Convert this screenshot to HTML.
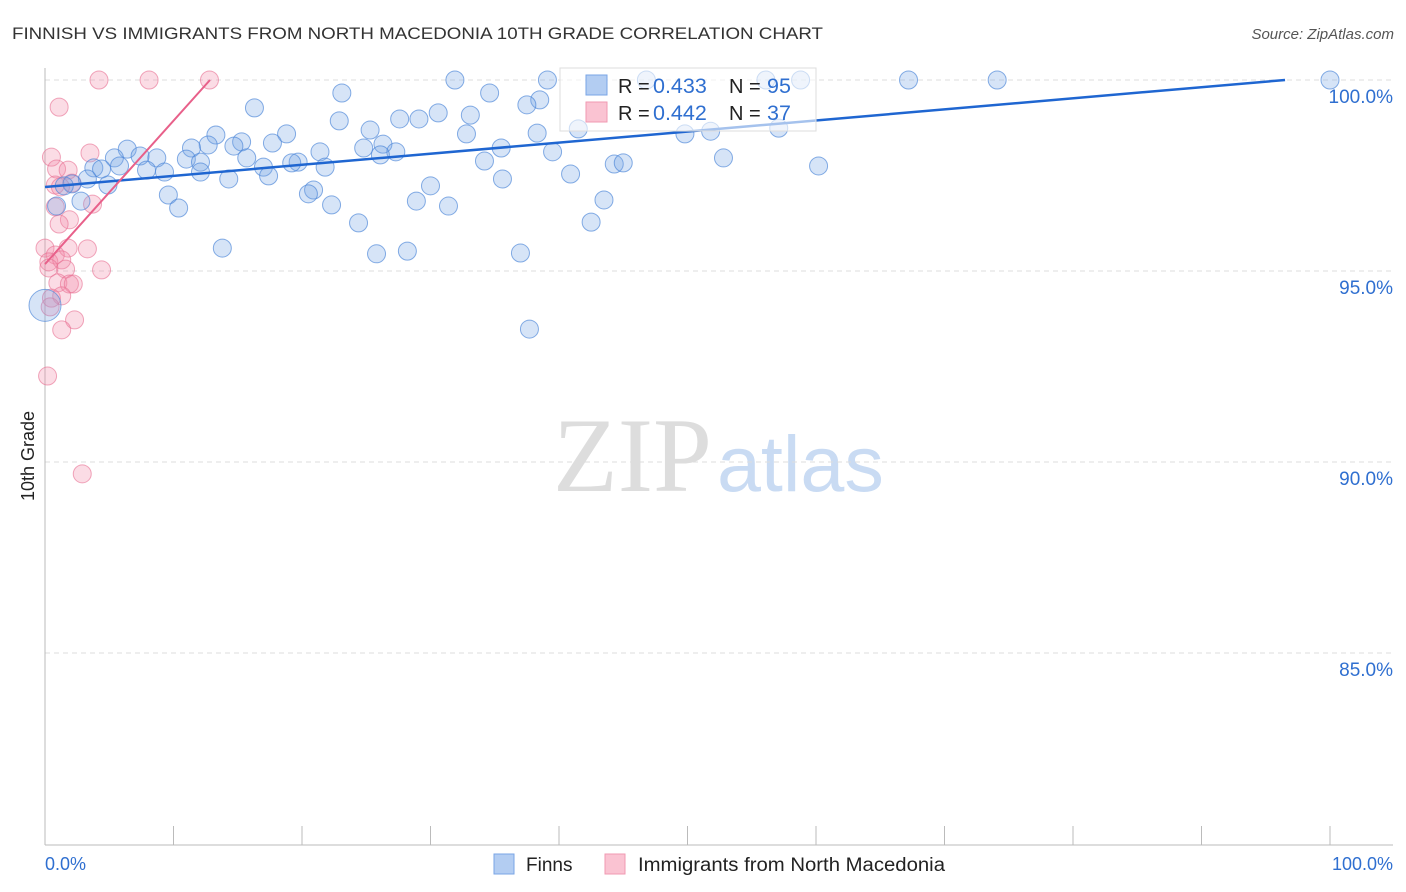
<!DOCTYPE html>
<html><head><meta charset="utf-8"><style>
body{margin:0;background:#fff;font-family:"Liberation Sans",sans-serif;}
svg{display:block}
</style></head><body>
<svg id="c" width="1406" height="892" xmlns="http://www.w3.org/2000/svg">
<text x="12" y="39" font-size="17" fill="#333" textLength="811" lengthAdjust="spacingAndGlyphs">FINNISH VS IMMIGRANTS FROM NORTH MACEDONIA 10TH GRADE CORRELATION CHART</text>
<text x="1394" y="39" font-size="15" fill="#555" font-style="italic" text-anchor="end">Source: ZipAtlas.com</text>
<text x="553" y="491" font-size="106" fill="#ddd" font-family="Liberation Serif,serif">ZIP</text>
<text x="717" y="491" font-size="79" fill="#c9dbf3">atlas</text>
<text transform="translate(34,456) rotate(-90)" font-size="18" fill="#222" text-anchor="middle">10th Grade</text>
<g id="grid"></g><g id="pts"></g><g id="lines"></g>
<g>
<rect x="560" y="68" width="256" height="63" fill="#fff" fill-opacity="0.6" stroke="#ddd"/>
<rect x="586" y="75" width="21" height="20" fill="#b3cdf2" stroke="#7aa5e6"/>
<rect x="586" y="102" width="21" height="20" fill="#fac3d2" stroke="#f09ab2"/>
<text x="618" y="93" font-size="20" fill="#222">R = <tspan x="653" font-size="21.5" fill="#2f6fd0">0.433</tspan><tspan x="729">N = </tspan><tspan x="767" font-size="21.5" fill="#2f6fd0">95</tspan></text>
<text x="618" y="120" font-size="20" fill="#222">R = <tspan x="653" font-size="21.5" fill="#2f6fd0">0.442</tspan><tspan x="729">N = </tspan><tspan x="767" font-size="21.5" fill="#2f6fd0">37</tspan></text>
</g>
<g>
<rect x="494" y="854" width="20" height="20" fill="#b3cdf2" stroke="#7aa5e6"/>
<text x="526" y="871" font-size="19" fill="#222">Finns</text>
<rect x="605" y="854" width="20" height="20" fill="#fac3d2" stroke="#f09ab2"/>
<text x="638" y="871" font-size="19" fill="#222" textLength="307" lengthAdjust="spacingAndGlyphs">Immigrants from North Macedonia</text>
</g>
<text x="45" y="870" font-size="18" fill="#2f6fd0">0.0%</text>
<text x="1393" y="870" font-size="18" fill="#2f6fd0" text-anchor="end">100.0%</text>
</svg>
<script>
const yTicks=[100,95,90,85];
const xTickVals=[0,10,20,30,40,50,60,70,80,90,100];
const finnsX=[31.9,39.1,46.8,56.1,58.8,67.2,74.1,100,23.1,16.3,34.6,38.5,37.5,30.6,33.1,27.6,29.1,22.9,25.3,13.3,18.8,32.8,38.3,41.5,51.8,57.1,49.8,15.3,17.7,12.7,14.7,6.4,11.4,21.4,24.8,26.3,27.3,35.5,39.5,26.1,7.4,5.4,8.7,11.0,12.1,15.7,19.7,19.2,34.2,44.3,45.0,52.8,60.2,3.8,4.4,5.8,7.9,9.3,12.1,17.0,21.8,17.4,14.3,35.6,40.9,3.3,2.1,4.9,1.5,30.0,20.9,20.5,9.6,2.8,0.9,22.3,28.9,31.4,43.5,10.4,24.4,42.5,13.8,25.8,28.2,37.0,37.7,0];
const finnsY=[100,100,100,100,100,100,100,100,99.66,99.27,99.66,99.48,99.35,99.14,99.08,98.98,98.98,98.93,98.69,98.56,98.59,98.59,98.61,98.72,98.66,98.74,98.59,98.38,98.35,98.30,98.27,98.19,98.22,98.12,98.22,98.32,98.12,98.22,98.12,98.04,98.01,97.96,97.96,97.93,97.85,97.96,97.85,97.83,97.88,97.80,97.83,97.96,97.75,97.70,97.67,97.75,97.64,97.59,97.59,97.72,97.72,97.49,97.41,97.41,97.54,97.41,97.28,97.25,97.23,97.23,97.12,97.02,96.99,96.83,96.70,96.73,96.83,96.70,96.86,96.65,96.26,96.28,95.60,95.45,95.52,95.47,93.48,94.1];
const macX=[4.2,8.1,12.8,1.1,0.5,3.5,0.9,1.8,0.8,2.1,1.2,3.7,0.8,1.9,1.1,0,1.8,3.3,0.8,0.3,1.3,1.6,4.4,0.3,1.0,1.9,2.2,1.3,0.5,0.4,2.3,1.3,0.2,2.9];
const macY=[100,100,100,99.29,97.98,98.09,97.67,97.64,97.25,97.30,97.20,96.75,96.68,96.34,96.23,95.60,95.60,95.58,95.42,95.24,95.29,95.05,95.03,95.08,94.69,94.66,94.66,94.35,94.29,94.06,93.72,93.46,92.25,89.69];
const finnsTrend=[[0,97.2],[96.5,100]];
const macTrend=[[0,95.18],[12.84,100]];
const X=v=>45+v*12.85, Y=v=>80+(100-v)*38.2;
const NS="http://www.w3.org/2000/svg";
function mk(t,a,p){const e=document.createElementNS(NS,t);for(const k in a)e.setAttribute(k,a[k]);p.appendChild(e);return e;}
const grid=document.getElementById('grid'),svg=document.getElementById('c');
yTicks.forEach(v=>{const l=mk('line',{x1:45,x2:1393,y1:Y(v),y2:Y(v),stroke:'#ddd','stroke-dasharray':'5,4'},grid);


const t=mk('text',{x:1393,y:Y(v)+23,'font-size':19,fill:'#2f6fd0','text-anchor':'end'},grid);t.textContent=v.toFixed(1)+'%';

});
const ax=mk('line',{x1:45,x2:45,y1:68,y2:845,stroke:'#bbb'},grid);


const bx=mk('line',{x1:45,x2:1393,y1:845,y2:845,stroke:'#bbb'},grid);


xTickVals.forEach(v=>{const l=mk('line',{x1:X(v),x2:X(v),y1:826,y2:845,stroke:'#bbb'},grid);

});
const pts=document.getElementById('pts');
macX.forEach((x,i)=>{const c=mk('circle',{cx:X(x),cy:Y(macY[i]),r:9,fill:'rgba(242,140,168,0.3)',stroke:'rgba(232,110,145,0.6)'},pts);

});
finnsX.forEach((x,i)=>{const big=i===finnsX.length-1;const c=mk('circle',{cx:X(x),cy:Y(finnsY[i]),r:big?16:9,fill:'rgba(120,165,230,0.3)',stroke:'rgba(70,130,215,0.65)'},pts);

});
const lines=document.getElementById('lines');
const l1=mk('line',{x1:X(finnsTrend[0][0]),y1:Y(finnsTrend[0][1]),x2:X(finnsTrend[1][0]),y2:Y(finnsTrend[1][1]),stroke:'#1f66d1','stroke-width':2.5},lines);


const l2=mk('line',{x1:X(macTrend[0][0]),y1:Y(macTrend[0][1]),x2:X(macTrend[1][0]),y2:Y(macTrend[1][1]),stroke:'#e8608a','stroke-width':2},lines);


</script>
</body></html>
